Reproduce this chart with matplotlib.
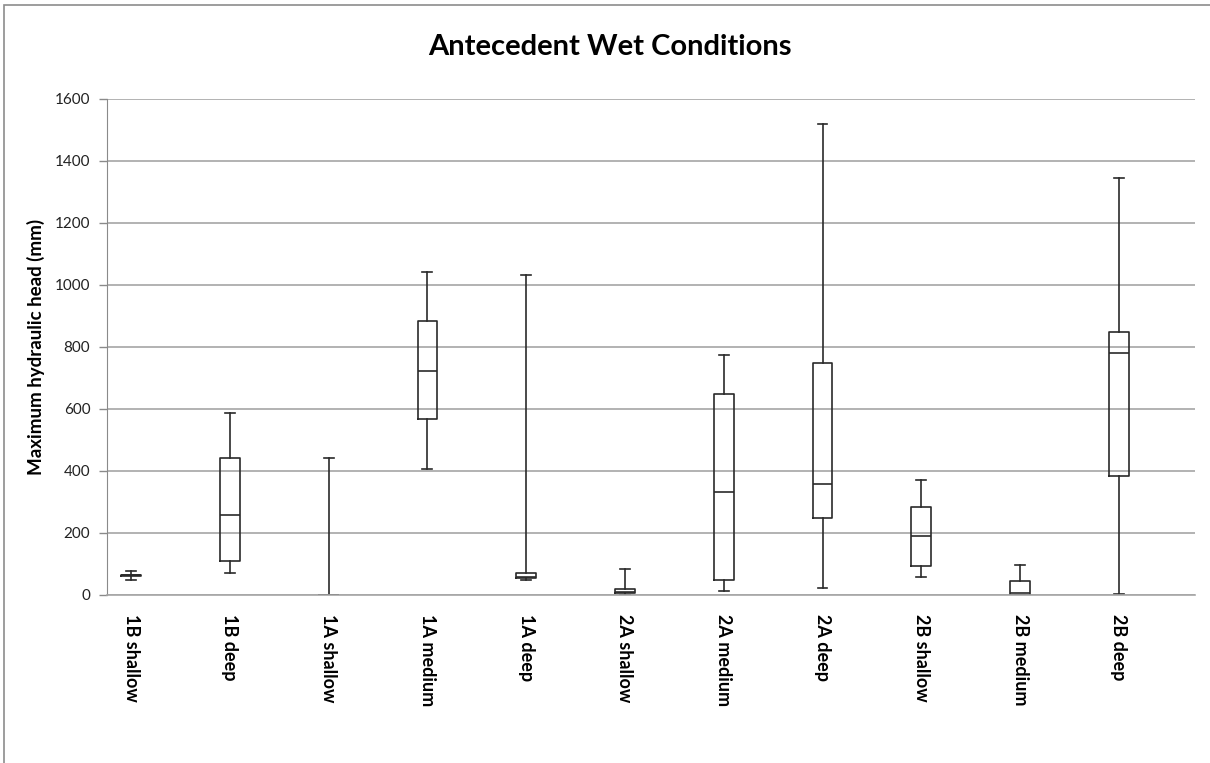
import matplotlib
matplotlib.use("Agg")
import matplotlib.pyplot as plt
from matplotlib.patches import Rectangle

# Site / depth groups
categories = ["1B shallow", "1B deep", "1A shallow", "1A medium", "1A deep",
              "2A shallow", "2A medium", "2A deep", "2B shallow", "2B medium", "2B deep"]

# Five-number summaries of maximum hydraulic head (mm)
mins    = [48,   72,  0,   407, 47,   0,  14,  23,  59,  0,  3]
q1s     = [60,  110,  0,   567, 56,   5,  48, 248,  94,  1, 384]
medians = [63,  257,  0,   724, 59,  10, 332, 358, 190,  8, 782]
q3s     = [66,  441,  0,   883, 72,  18, 647, 748, 285, 46, 848]
maxs    = [77,  588, 441, 1042, 1033, 84, 773, 1519, 370, 97, 1345]

yticks = [0, 200, 400, 600, 800, 1000, 1200, 1400, 1600]

plt.rcParams["font.family"] = ["Lato", "DejaVu Sans"]

fig = plt.figure(figsize=(12.10, 7.63), dpi=100)
ax = fig.add_axes([107 / 1210, 1 - 595 / 763, (1195 - 107) / 1210, (595 - 99) / 763])

stats = []
for lab, lo, a, m, b, hi in zip(categories, mins, q1s, medians, q3s, maxs):
    stats.append(dict(label=lab, whislo=lo, q1=a, med=m, q3=b, whishi=hi, fliers=[]))

line_col = "#2a2a2a"
ax.bxp(stats, positions=range(len(categories)), widths=0.2, showfliers=False,
       boxprops=dict(color=line_col, linewidth=1.2),
       medianprops=dict(color=line_col, linewidth=1.2),
       whiskerprops=dict(color=line_col, linewidth=1.2),
       capprops=dict(color=line_col, linewidth=1.2),
       capwidths=0.1)

ax.set_xlim(-0.243, 10.77)
ax.set_ylim(0, 1600)
ax.set_yticks(yticks)
ax.set_yticklabels([str(v) for v in yticks], fontsize=11, color="#222222")
ax.yaxis.grid(True, color="#a6a6a6", linewidth=1.2)
ax.set_axisbelow(True)

ax.set_xticks(range(len(categories)))
ax.set_xticklabels(categories, rotation=270, fontsize=13, fontweight="bold",
                   va="top", ha="center")
ax.tick_params(axis="x", length=0, pad=14)
ax.tick_params(axis="y", length=6, width=1.0, color="#8a8a8a", pad=6)

for side in ("top", "right"):
    ax.spines[side].set_visible(False)
ax.spines["left"].set_color("#8a8a8a")
ax.spines["bottom"].set_color("#a6a6a6")
ax.spines["bottom"].set_linewidth(1.2)

ax.set_ylabel("Maximum hydraulic head (mm)", fontsize=13.5, fontweight="bold", labelpad=7)

fig.text(610 / 1210, 1 - 47 / 763, "Antecedent Wet Conditions", ha="center", va="center",
         fontsize=21, fontweight="bold")

# Chart-area frame
fig.patches.append(Rectangle((4 / 1210, -0.1), 1.2, 1 - 5 / 763 + 0.1, transform=fig.transFigure,
                             fill=False, edgecolor="#8c8c8c", linewidth=1.2))

fig.savefig("out.png", dpi=100)
